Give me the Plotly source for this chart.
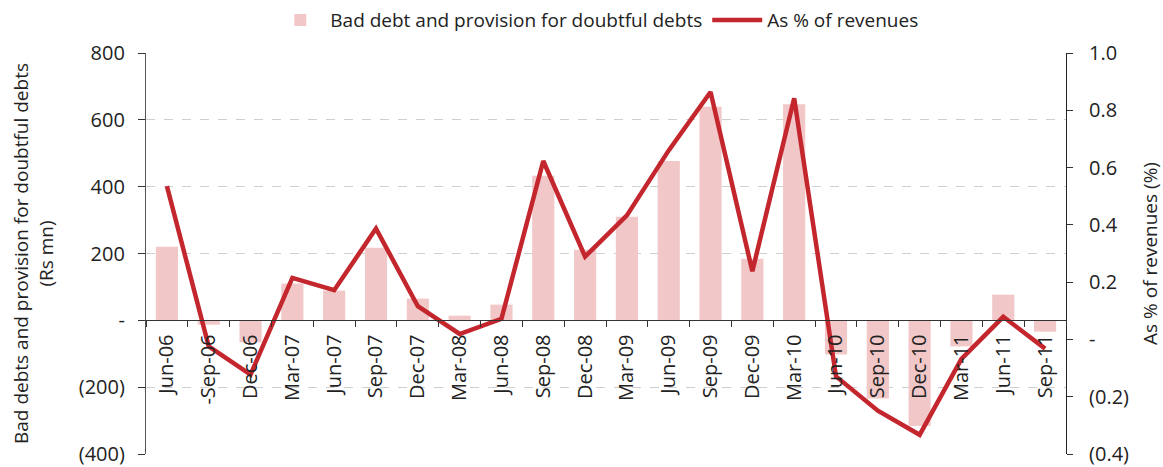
import plotly.graph_objects as go

quarters = ["Jun-06", "-Sep-06", "Dec-06", "Mar-07", "Jun-07", "Sep-07", "Dec-07", "Mar-08",
            "Jun-08", "Sep-08", "Dec-08", "Mar-09", "Jun-09", "Sep-09", "Dec-09", "Mar-10",
            "Jun-10", "Sep-10", "Dec-10", "Mar-11", "Jun-11", "Sep-11"]
bad_debt = [220, -13, -66, 110, 89, 217, 65, 14, 47, 433, 211, 310, 477, 639, 184, 647,
            -102, -234, -316, -78, 77, -34]
pct_revenue = [0.535, -0.024, -0.123, 0.215, 0.172, 0.387, 0.116, 0.019, 0.072, 0.623, 0.289,
               0.433, 0.66, 0.864, 0.238, 0.842, -0.129, -0.249, -0.333, -0.068, 0.079, -0.032]

left_ticks = [-400, -200, 0, 200, 400, 600, 800]
left_text = ["(400)", "(200)", "-", "200", "400", "600", "800"]
right_ticks = [-0.4, -0.2, 0, 0.2, 0.4, 0.6, 0.8, 1.0]
right_text = ["(0.4)", "(0.2)", "-", "0.2", "0.4", "0.6", "0.8", "1.0"]

FONT = "Open Sans"
TXT = "#222222"

fig = go.Figure()
fig.add_trace(go.Bar(x=quarters, y=bad_debt, name="Bad debt and provision for doubtful debts",
                     marker=dict(color="#F1C7C8", line=dict(width=0)), yaxis="y"))
fig.add_trace(go.Scatter(x=quarters, y=pct_revenue, name="As % of revenues", mode="lines",
                         line=dict(color="#C4262E", width=4.5), yaxis="y2"))

ymin, ymax = -400, 800
fig.update_layout(
    width=1163, height=467,
    margin=dict(l=146, r=97, t=53, b=13, autoexpand=False),
    plot_bgcolor="white", paper_bgcolor="white",
    font=dict(family=FONT, size=19, color=TXT),
    bargap=0.47,
    showlegend=True,
    legend=dict(orientation="h", x=0.49, xanchor="center", yref="container", y=0.957,
                yanchor="middle", font=dict(size=19, color=TXT), itemwidth=50,
                bgcolor="rgba(0,0,0,0)"),
    xaxis=dict(type="category", anchor="free", position=(0 - ymin) / (ymax - ymin),
               showline=True, linecolor="#333333", linewidth=1.2, automargin=False,
               ticks="outside", ticklen=6, tickcolor="#333333", tickson="boundaries",
               tickangle=-90, tickfont=dict(size=20, color=TXT), showgrid=False,
               ticklabelstandoff=5, range=[-0.5, len(quarters) - 0.5]),
    yaxis=dict(range=[ymin, ymax], tickvals=left_ticks, ticktext=left_text, automargin=False,
               showline=True, linecolor="#555555", linewidth=1.2,
               ticks="outside", ticklen=7, tickcolor="#333333",
               showgrid=True, gridcolor="#CFCFCF", griddash="dash", gridwidth=1,
               zeroline=False, tickfont=dict(size=20, color=TXT), ticklabelstandoff=9,
               title=dict(text="Bad debts and provision for doubtful debts<br>(Rs mn)",
                          font=dict(size=19, color=TXT), standoff=20)),
    yaxis2=dict(range=[-0.4, 1.0], tickvals=right_ticks, ticktext=right_text, automargin=False,
                overlaying="y", side="right", showline=True, linecolor="#222222", linewidth=1.2,
                ticks="outside", ticklen=6, tickcolor="#333333", showgrid=False, zeroline=False,
                tickfont=dict(size=20, color=TXT), ticklabelstandoff=12,
                title=dict(text="As % of revenues (%)", font=dict(size=19, color=TXT), standoff=20)),
)

fig.write_html("out.html")
